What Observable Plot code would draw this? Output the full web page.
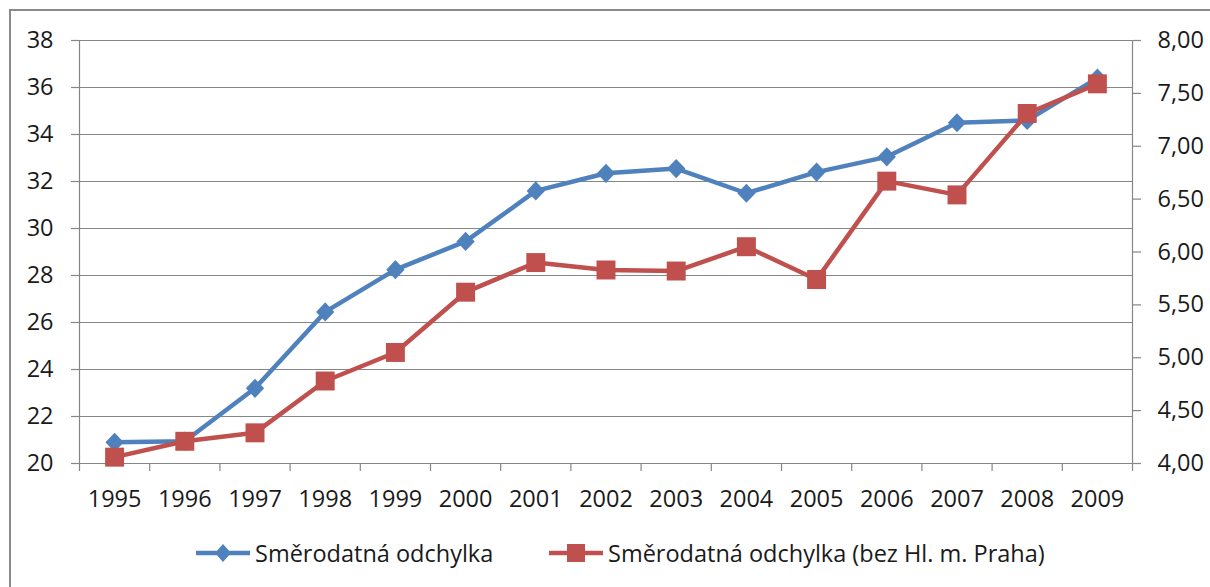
<!DOCTYPE html>
<html>
<head>
<meta charset="utf-8">
<script src="https://cdn.jsdelivr.net/npm/d3@7"></script>
<script src="https://cdn.jsdelivr.net/npm/@observablehq/plot@0.6"></script>
<style>
  html, body { margin: 0; padding: 0; background: #fff; }
  #wrap { position: relative; width: 1210px; height: 587px; overflow: hidden; }
  #frame { position: absolute; left: 9px; top: 9px; width: 1300px; height: 700px; border-left: 2px solid #8a8a8a; border-top: 2px solid #8a8a8a; }
  #chart { position: absolute; left: 0; top: 0; }
  .leg { position: absolute; top: 540px; height: 26px; display: flex; align-items: center; font-family: "Open Sans", sans-serif; font-size: 23.5px; color: #1a1a1a; white-space: nowrap; }
  .leg svg { margin-right: 5px; }
</style>
</head>
<body>
<div id="wrap">
  <div id="frame"></div>
  <div id="chart"></div>
  <div class="leg" id="leg1" style="left:196px"></div>
  <div class="leg" id="leg2" style="left:549px"></div>
</div>
<script>
const years = [1995, 1996, 1997, 1998, 1999, 2000, 2001, 2002, 2003, 2004, 2005, 2006, 2007, 2008, 2009];
const seriesNames = ["Směrodatná odchylka", "Směrodatná odchylka (bez Hl. m. Praha)"];
const sdAll = [20.9, 20.95, 23.2, 26.45, 28.25, 29.45, 31.6, 32.35, 32.55, 31.5, 32.4, 33.05, 34.5, 34.6, 36.4];
const sdNoPraha = [4.06, 4.21, 4.29, 4.78, 5.05, 5.62, 5.90, 5.83, 5.82, 6.05, 5.74, 6.67, 6.54, 7.31, 7.59];
const leftTicks = [20, 22, 24, 26, 28, 30, 32, 34, 36, 38];
const rightTicks = [4.0, 4.5, 5.0, 5.5, 6.0, 6.5, 7.0, 7.5, 8.0];

const colors = ["#4F81BD", "#C0504D"];
const grid = "#868686";
const fs = 23.5;

// map right axis domain [4,8] onto left [20,38]
const toLeft = v => 20 + (v - 4) * 18 / 4;
const fromLeft = v => 4 + (v - 20) * 4 / 18;

const diamond = {
  draw(ctx, size) {
    const r = Math.sqrt(size / 2);
    ctx.moveTo(0, -r * 1.05);
    ctx.lineTo(r, 0);
    ctx.lineTo(0, r * 1.05);
    ctx.lineTo(-r, 0);
    ctx.closePath();
  }
};
const square = {
  draw(ctx, size) {
    const h = Math.sqrt(size) / 2;
    ctx.rect(-h, -h, 2 * h, 2 * h);
  }
};

const dataA = years.map((y, i) => ({year: y, v: sdAll[i]}));
const dataB = years.map((y, i) => ({year: y, v: toLeft(sdNoPraha[i])}));
const boundaries = d3.range(years.length + 1).map(i => years[0] - 0.5 + i);

const chart = Plot.plot({
  width: 1210,
  height: 520,
  marginLeft: 79,
  marginRight: 78,
  marginTop: 40,
  marginBottom: 57,
  style: {fontFamily: "'Open Sans', sans-serif", fontSize: fs + "px", color: "#1a1a1a", background: "transparent"},
  x: {type: "linear", domain: [boundaries[0], boundaries[boundaries.length - 1]]},
  y: {type: "linear", domain: [20, 38]},
  marks: [
    Plot.gridY(leftTicks, {stroke: grid, strokeOpacity: 1, strokeWidth: 1.2}),
    Plot.ruleX([boundaries[0], boundaries[boundaries.length - 1]], {stroke: grid, strokeWidth: 1.2}),
    Plot.axisY(leftTicks, {anchor: "left", tickSize: 8, tickPadding: 18, stroke: grid, strokeWidth: 1.2, fontSize: fs, tickFormat: d => String(d), label: null}),
    Plot.axisY(rightTicks.map(toLeft), {anchor: "right", tickSize: 8, tickPadding: 17, stroke: grid, strokeWidth: 1.2, fontSize: fs, tickFormat: d => fromLeft(d).toFixed(2).replace(".", ","), label: null}),
    Plot.axisX(boundaries, {anchor: "bottom", tickSize: 8, stroke: grid, strokeWidth: 1.2, tickFormat: () => "", label: null}),
    Plot.axisX(years, {anchor: "bottom", tickSize: 0, tickPadding: 27, fontSize: fs, tickFormat: d => String(d), label: null}),
    Plot.line(dataA, {x: "year", y: "v", stroke: colors[0], strokeWidth: 4.5}),
    Plot.dot(dataA, {x: "year", y: "v", fill: colors[0], stroke: "none", symbol: diamond, r: 7.3}),
    Plot.line(dataB, {x: "year", y: "v", stroke: colors[1], strokeWidth: 4.5}),
    Plot.dot(dataB, {x: "year", y: "v", fill: colors[1], stroke: "none", symbol: square, r: 10.7})
  ]
});
document.getElementById("chart").appendChild(chart);

function swatch(color, kind) {
  const ns = "http://www.w3.org/2000/svg";
  const s = document.createElementNS(ns, "svg");
  s.setAttribute("width", 54); s.setAttribute("height", 24);
  const l = document.createElementNS(ns, "line");
  l.setAttribute("x1", 0); l.setAttribute("x2", 54); l.setAttribute("y1", 12); l.setAttribute("y2", 12);
  l.setAttribute("stroke", color); l.setAttribute("stroke-width", 4.5);
  s.appendChild(l);
  const p = document.createElementNS(ns, "path");
  p.setAttribute("d", kind === "diamond" ? "M27,3L35,12L27,21L19,12Z" : "M18,3H36V21H18Z");
  p.setAttribute("fill", color);
  s.appendChild(p);
  return s;
}
const l1 = document.getElementById("leg1");
l1.appendChild(swatch(colors[0], "diamond"));
l1.appendChild(document.createTextNode(seriesNames[0]));
const l2 = document.getElementById("leg2");
l2.appendChild(swatch(colors[1], "square"));
l2.appendChild(document.createTextNode(seriesNames[1]));
</script>
</body>
</html>
